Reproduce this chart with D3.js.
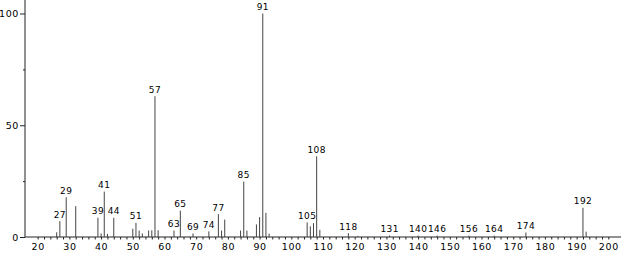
<!DOCTYPE html>
<html>
<head>
<meta charset="utf-8">
<script src="https://cdn.jsdelivr.net/npm/d3@7"></script>
<style>
  body { margin: 0; background: #fff; }
  svg text { font-family: 'DejaVu Sans', sans-serif; font-size: 9.5px; fill: #000; letter-spacing: 0.6px; }
  svg text.peak { font-size: 9px; letter-spacing: 0.4px; }
</style>
</head>
<body>
<svg id="chart"></svg>
<script>
// m/z of each peak
var mz = [26, 27, 29, 32, 39, 40, 41, 42, 44, 50, 51, 52, 53, 55, 56, 57, 58,
  63, 65, 69, 74, 77, 78, 79, 84, 85, 86, 89, 90, 91, 92, 93,
  105, 106, 107, 108, 109, 118, 121, 131, 140, 146, 156, 164, 174, 192, 193];
// relative abundance (%)
var abundance = [2.1, 7.1, 17.8, 13.8, 8.6, 1.6, 20.3, 1.4, 8.6, 3.7, 6.3, 2.9, 1.6, 2.9, 3.0, 63.0, 3.0,
  2.9, 11.8, 1.6, 2.5, 10.2, 2.9, 7.8, 2.9, 24.8, 2.9, 5.6, 8.9, 100, 10.8, 1.5,
  6.5, 4.8, 6.2, 36.1, 3.2, 1.7, 0.5, 0.7, 0.6, 0.6, 0.6, 0.6, 2.0, 13.1, 2.4];
// peaks carrying an m/z label
var labelled = [27, 29, 39, 41, 44, 51, 57, 63, 65, 69, 74, 77, 85, 91, 105, 108,
  118, 131, 140, 146, 156, 164, 174, 192];

var xTicks = d3.range(20, 201, 2);
var yTicks = [0, 25, 50, 75, 100];

var width = 623;
var height = 254;

var svg = d3.select('#chart')
  .attr('width', width)
  .attr('height', height);

var x = d3.scaleLinear()
  .domain([16, 204])
  .range([25, 621]);

var y = d3.scaleLinear()
  .domain([0, 100])
  .range([237, 13.5]);

var peaks = mz.map(function(m, i) {
  return { mz: m, ab: abundance[i] };
});

// x axis
var xAxis = svg.append('g')
  .attr('transform', 'translate(0,' + y(0) + ')')
  .call(d3.axisBottom(x)
    .tickValues(xTicks)
    .tickSize(2.5)
    .tickPadding(3.5)
    .tickFormat(function(d) { return d % 10 === 0 ? d : ''; }));
xAxis.select('.domain').attr('d', 'M' + x(16) + ',0H' + x(204));

// y axis
var yAxis = svg.append('g')
  .attr('transform', 'translate(' + x(16) + ',0)')
  .call(d3.axisLeft(y)
    .tickValues(yTicks)
    .tickSize(5)
    .tickPadding(1)
    .tickFormat(function(d) { return d % 50 === 0 ? d : ''; }));
yAxis.select('.domain').attr('d', 'M0,0V' + y(0));
yAxis.selectAll('.tick')
  .filter(function(d) { return d % 50 !== 0; })
  .select('line').attr('x2', -2);

svg.selectAll('.domain, .tick line')
  .attr('stroke', '#222');
svg.selectAll('.tick text').attr('font-size', null).attr('font-family', null);

// peaks
svg.append('g')
  .selectAll('line')
  .data(peaks)
  .enter()
  .append('line')
  .attr('x1', function(d) { return x(d.mz); })
  .attr('x2', function(d) { return x(d.mz); })
  .attr('y1', y(0))
  .attr('y2', function(d) { return y(d.ab); })
  .attr('stroke', '#444')
  .attr('stroke-width', 1);

// peak labels
svg.append('g')
  .selectAll('text')
  .data(peaks.filter(function(d) { return labelled.indexOf(d.mz) >= 0; }))
  .enter()
  .append('text')
  .attr('class', 'peak')
  .attr('x', function(d) { return x(d.mz); })
  .attr('y', function(d) { return y(d.ab) - 3.5; })
  .attr('text-anchor', 'middle')
  .text(function(d) { return d.mz; });
</script>
</body>
</html>
